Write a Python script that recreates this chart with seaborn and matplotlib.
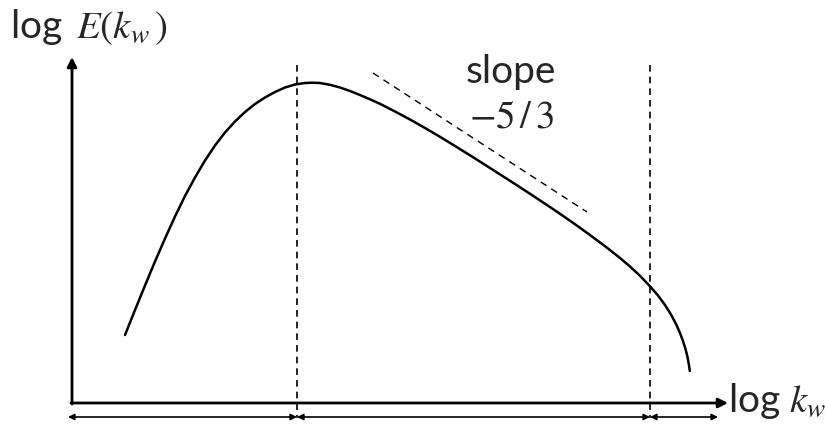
import numpy as np
import matplotlib
matplotlib.use('Agg')
import matplotlib.pyplot as plt
import seaborn as sns

# Energy spectrum sketch (x right, y down, pixel-like units)
curve_x = [125, 135, 145, 155, 165, 175, 185, 195, 205, 215, 225, 235, 245, 255,
           265, 275, 285, 295, 305, 312, 320, 330, 340, 350, 360, 370, 380, 395,
           410, 425, 440, 455, 470, 485, 500, 515, 530, 545, 560, 575, 590, 605,
           620, 630, 640, 650, 658, 665, 671, 676, 680, 683, 685.5, 687.5, 688.8,
           689.8]
curve_y = [335, 310, 285.5, 261.5, 238.5, 216.5, 196, 177.5, 160.5, 145.5, 132.5,
           121.5, 112, 104, 97.5, 92, 87.5, 84.5, 83, 82.7, 83, 84.8, 87.5, 91,
           95, 99.3, 103.8, 111.5, 119.5, 128, 136.8, 146, 155.3, 164.8, 174.4,
           184, 193.8, 203.7, 213.8, 224.2, 235, 246.2, 258, 266.5, 275.8, 286.3,
           295.5, 305, 314.5, 324, 333, 341, 349, 357, 364, 371]

# -5/3 reference line
slope_x = [373, 587]
slope_y = [73, 212]

# range boundaries (peak and dissipation range)
bounds_x = [297, 650]
axis_left, axis_right = 68, 718

sns.set_theme(style='white')
plt.rcParams['font.family'] = ['Lato', 'DejaVu Sans']
plt.rcParams['mathtext.fontset'] = 'stix'

fig = plt.figure(figsize=(8.25, 4.26), dpi=100)
ax = fig.add_axes([0, 0, 1, 1])
ax.set_xlim(0, 825)
ax.set_ylim(426, 0)
ax.axis('off')

# spectrum curve
sns.lineplot(x=curve_x, y=curve_y, sort=False, color='black', lw=1.8, ax=ax)

# slope line
sns.lineplot(x=slope_x, y=slope_y, sort=False, color='black', lw=1.0,
             linestyle=(0, (5, 4)), ax=ax)

# vertical separators
ax.vlines(bounds_x, 65, 418, colors='black', lw=1.2, linestyles=[(0, (4, 3))])

# axes with arrows
ax.annotate('', xy=(72, 57), xytext=(72, 404),
            arrowprops=dict(arrowstyle='-|>', lw=2.0, color='black',
                            mutation_scale=14, shrinkA=0, shrinkB=0))
ax.annotate('', xy=(728, 403), xytext=(71, 403),
            arrowprops=dict(arrowstyle='-|>', lw=2.0, color='black',
                            mutation_scale=14, shrinkA=0, shrinkB=0))

# range arrows below the axis
edges = [axis_left] + bounds_x + [axis_right]
for a, b in zip(edges[:-1], edges[1:]):
    ax.annotate('', xy=(a, 417), xytext=(b, 417),
                arrowprops=dict(arrowstyle='<|-|>', lw=1.2, color='black',
                                mutation_scale=9, shrinkA=0, shrinkB=0))

# labels
ax.text(10, 38, r'log $\,E(k_{w}\,)$', fontsize=28, va='baseline', ha='left')
ax.text(728, 412, r'log $k_{w}$', fontsize=28, va='baseline', ha='left')
ax.text(511, 83, 'slope', fontsize=28, va='baseline', ha='center')
ax.text(511, 128, r'$-5\,/\,3$', fontsize=28, va='baseline', ha='center')

fig.savefig('out.png', dpi=100)
